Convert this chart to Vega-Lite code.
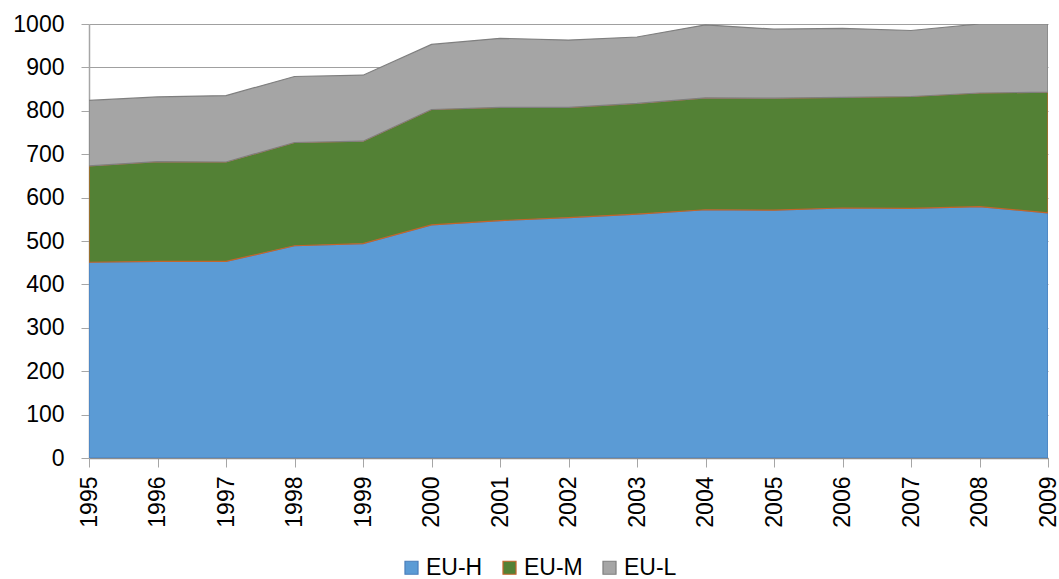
{
  "$schema": "https://vega.github.io/schema/vega-lite/v6.json",
  "width": 959,
  "height": 434,
  "autosize": {"type": "none"},
  "padding": {"left": 89, "top": 24, "right": 11, "bottom": 121},
  "background": "white",
  "config": {
    "view": {"stroke": null},
    "font": "Liberation Sans"
  },
  "data": {
    "values": [
      {"year": 1995, "series": "EU-H", "value": 451},
      {"year": 1996, "series": "EU-H", "value": 453},
      {"year": 1997, "series": "EU-H", "value": 453},
      {"year": 1998, "series": "EU-H", "value": 489},
      {"year": 1999, "series": "EU-H", "value": 494},
      {"year": 2000, "series": "EU-H", "value": 537},
      {"year": 2001, "series": "EU-H", "value": 547},
      {"year": 2002, "series": "EU-H", "value": 554},
      {"year": 2003, "series": "EU-H", "value": 562},
      {"year": 2004, "series": "EU-H", "value": 572},
      {"year": 2005, "series": "EU-H", "value": 571},
      {"year": 2006, "series": "EU-H", "value": 576},
      {"year": 2007, "series": "EU-H", "value": 575},
      {"year": 2008, "series": "EU-H", "value": 579},
      {"year": 2009, "series": "EU-H", "value": 565},
      {"year": 1995, "series": "EU-M", "value": 222},
      {"year": 1996, "series": "EU-M", "value": 230},
      {"year": 1997, "series": "EU-M", "value": 229},
      {"year": 1998, "series": "EU-M", "value": 238},
      {"year": 1999, "series": "EU-M", "value": 236},
      {"year": 2000, "series": "EU-M", "value": 266},
      {"year": 2001, "series": "EU-M", "value": 261},
      {"year": 2002, "series": "EU-M", "value": 254},
      {"year": 2003, "series": "EU-M", "value": 255},
      {"year": 2004, "series": "EU-M", "value": 258},
      {"year": 2005, "series": "EU-M", "value": 258},
      {"year": 2006, "series": "EU-M", "value": 255},
      {"year": 2007, "series": "EU-M", "value": 258},
      {"year": 2008, "series": "EU-M", "value": 262},
      {"year": 2009, "series": "EU-M", "value": 278},
      {"year": 1995, "series": "EU-L", "value": 151},
      {"year": 1996, "series": "EU-L", "value": 149},
      {"year": 1997, "series": "EU-L", "value": 153},
      {"year": 1998, "series": "EU-L", "value": 152},
      {"year": 1999, "series": "EU-L", "value": 152},
      {"year": 2000, "series": "EU-L", "value": 150},
      {"year": 2001, "series": "EU-L", "value": 159},
      {"year": 2002, "series": "EU-L", "value": 155},
      {"year": 2003, "series": "EU-L", "value": 153},
      {"year": 2004, "series": "EU-L", "value": 168},
      {"year": 2005, "series": "EU-L", "value": 159},
      {"year": 2006, "series": "EU-L", "value": 159},
      {"year": 2007, "series": "EU-L", "value": 152},
      {"year": 2008, "series": "EU-L", "value": 159},
      {"year": 2009, "series": "EU-L", "value": 157}
    ]
  },
  "transform": [
    {"calculate": "indexof(['EU-H','EU-M','EU-L'], datum.series)", "as": "stackOrder"}
  ],
  "mark": {"type": "area", "strokeWidth": 1.2, "opacity": 1, "clip": true},
  "encoding": {
    "x": {
      "field": "year",
      "type": "quantitative",
      "scale": {"domain": [1995, 2009], "nice": false, "zero": false},
      "axis": {
        "title": null,
        "values": [1995, 1996, 1997, 1998, 1999, 2000, 2001, 2002, 2003, 2004, 2005, 2006, 2007, 2008, 2009],
        "format": "d",
        "labelAngle": -90,
        "labelAlign": "right",
        "labelBaseline": "middle",
        "labelFontSize": 23,
        "labelColor": "#000000",
        "labelPadding": 9,
        "tickSize": 9,
        "tickColor": "#a6a6a6",
        "domainColor": "#8c8c8c",
        "domainWidth": 1.5,
        "grid": false,
        "labelFlush": false,
        "labelOverlap": false
      }
    },
    "y": {
      "field": "value",
      "type": "quantitative",
      "stack": "zero",
      "scale": {"domain": [0, 1000], "nice": false},
      "axis": {
        "title": null,
        "values": [0, 100, 200, 300, 400, 500, 600, 700, 800, 900, 1000],
        "format": "d",
        "labelFontSize": 23,
        "labelColor": "#000000",
        "labelPadding": 17,
        "tickSize": 8,
        "tickColor": "#a6a6a6",
        "domainColor": "#a6a6a6",
        "domainWidth": 1.5,
        "grid": true,
        "gridColor": "#a0a0a0",
        "gridWidth": 1,
        "labelFlush": false
      }
    },
    "color": {
      "field": "series",
      "type": "nominal",
      "sort": ["EU-H", "EU-M", "EU-L"],
      "scale": {"domain": ["EU-H", "EU-M", "EU-L"], "range": ["#5b9bd5", "#538135", "#a5a5a5"]},
      "legend": {
        "title": null,
        "orient": "none",
        "legendX": 311,
        "legendY": 532,
        "direction": "horizontal",
        "symbolType": "square",
        "symbolSize": 170,
        "symbolStrokeWidth": 1.2,
        "labelFontSize": 23,
        "labelColor": "#000000",
        "labelOffset": 3,
        "columnPadding": 15,
        "padding": 0
      }
    },
    "stroke": {
      "field": "series",
      "type": "nominal",
      "sort": ["EU-H", "EU-M", "EU-L"],
      "scale": {"domain": ["EU-H", "EU-M", "EU-L"], "range": ["#4a7ebb", "#c5652b", "#7f7f7f"]},
      "legend": {
        "title": null,
        "orient": "none",
        "legendX": 311,
        "legendY": 532,
        "direction": "horizontal",
        "symbolType": "square",
        "symbolSize": 170,
        "symbolStrokeWidth": 1.2,
        "labelFontSize": 23,
        "labelColor": "#000000",
        "labelOffset": 3,
        "columnPadding": 15,
        "padding": 0
      }
    },
    "order": {"field": "stackOrder", "type": "quantitative", "sort": "ascending"}
  }
}
